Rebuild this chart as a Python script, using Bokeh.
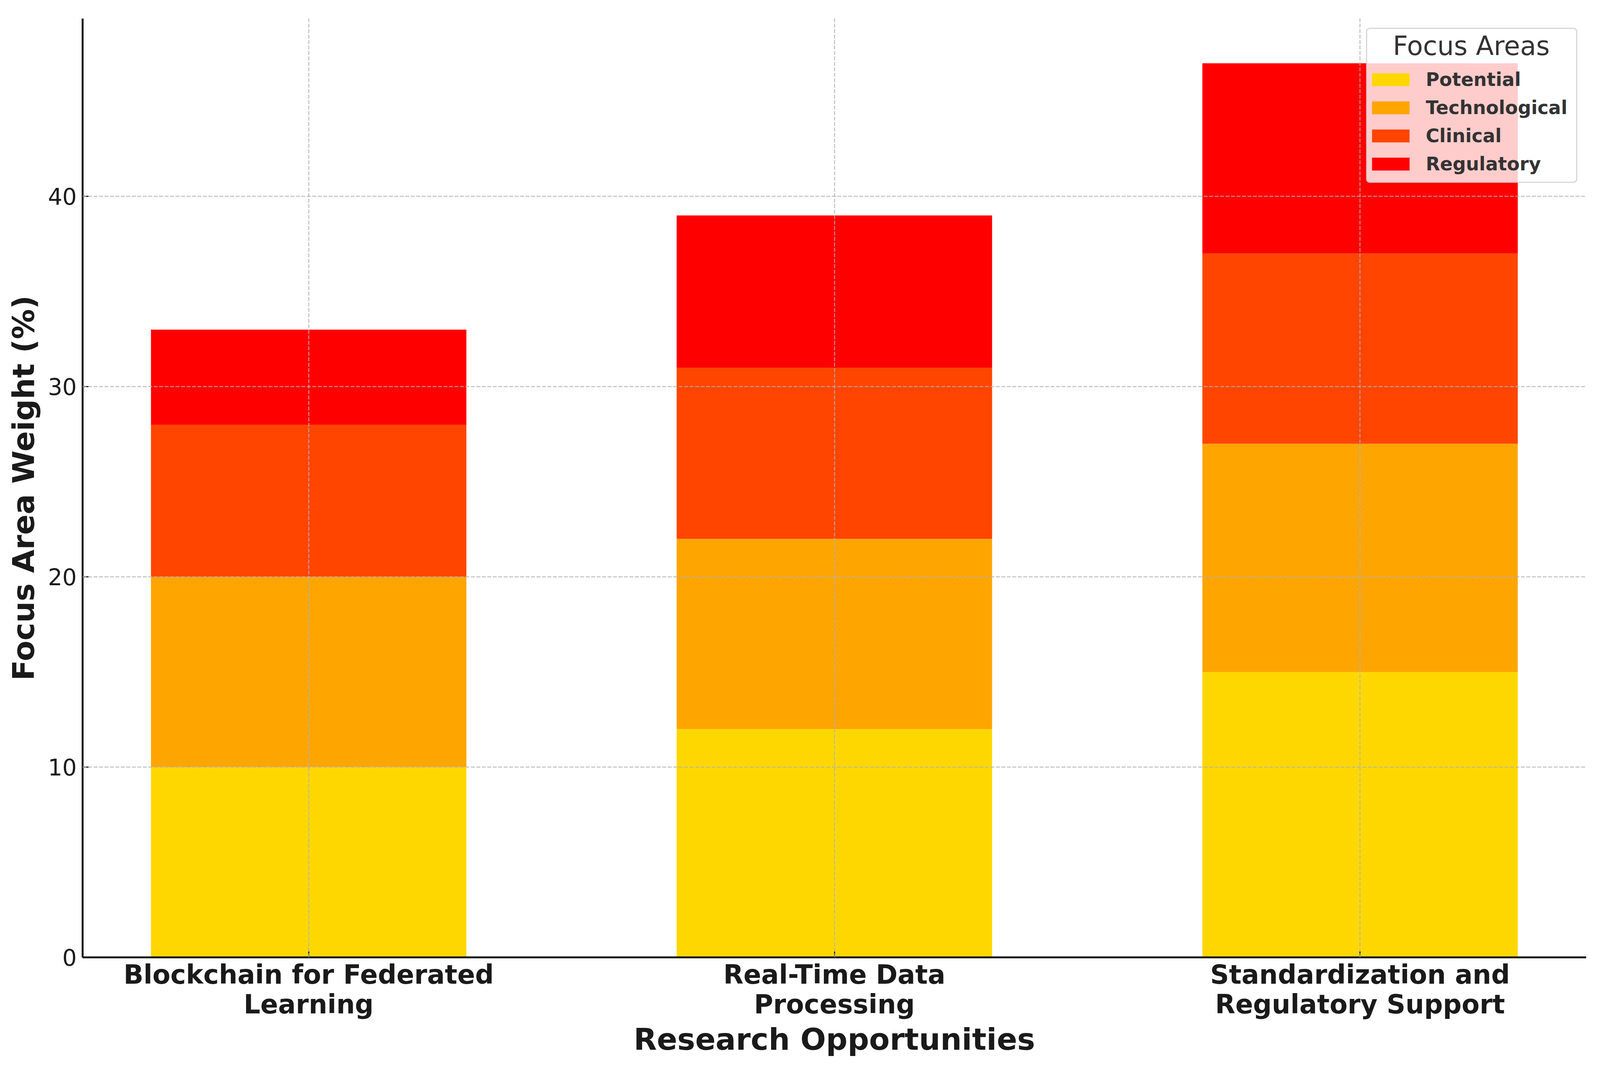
from bokeh.plotting import figure
from bokeh.models import (Range1d, FixedTicker, Legend, LegendItem, Label, BoxAnnotation,
                          ColumnDataSource)
from bokeh.embed import file_html
from bokeh.resources import INLINE

# ---- data ----
categories = ["Blockchain for Federated\nLearning",
              "Real-Time Data\nProcessing",
              "Standardization and\nRegulatory Support"]
focus_areas = ["Potential", "Technological", "Clinical", "Regulatory"]
potential = [10, 12, 15]
technological = [10, 10, 12]
clinical = [8, 9, 10]
regulatory = [5, 8, 10]
colors = ["#FFD700", "#FFA500", "#FF4500", "#FF0000"]
y_ticks = [0, 10, 20, 30, 40]
legend_title = "Focus Areas"

FONT = "DejaVu Sans"
x = list(range(len(categories)))
source = ColumnDataSource(dict(x=x, Potential=potential, Technological=technological,
                               Clinical=clinical, Regulatory=regulatory))

totals = [a + b + c + d for a, b, c, d in zip(potential, technological, clinical, regulatory)]

p = figure(width=4126, height=2751, output_backend="svg", toolbar_location=None,
           x_range=Range1d(-0.43, len(categories) - 1 + 0.43),
           y_range=Range1d(0, max(totals) * 1.05),
           min_border_left=211, min_border_right=66, min_border_top=47, min_border_bottom=301)
p.outline_line_color = None
p.background_fill_color = "white"
p.border_fill_color = "white"

renderers = p.vbar_stack(focus_areas, x="x", width=0.6, fill_color=colors,
                         line_color=None, source=source)

# axes
p.xaxis.ticker = FixedTicker(ticks=x)
p.xaxis.major_label_overrides = {i: c for i, c in enumerate(categories)}
p.yaxis.ticker = FixedTicker(ticks=y_ticks)
p.xaxis.axis_label = "Research Opportunities"
p.yaxis.axis_label = "Focus Area Weight (%)"

for ax in (p.xaxis[0], p.yaxis[0]):
    ax.axis_line_width = 5
    ax.axis_line_color = "#1a1a1a"
    ax.major_tick_in = 16
    ax.major_tick_out = 0
    ax.major_tick_line_width = 3
    ax.major_tick_line_color = "#1a1a1a"
    ax.minor_tick_line_color = None
    ax.axis_label_text_font = FONT
    ax.axis_label_text_font_style = "bold"
    ax.axis_label_text_font_size = "77px"
    ax.axis_label_text_color = "#1a1a1a"
    ax.major_label_text_font = FONT
    ax.major_label_text_color = "#1a1a1a"

p.xaxis.major_label_text_font_size = "67px"
p.xaxis.major_label_text_font_style = "bold"
p.xaxis.major_label_text_line_height = 0.98
p.xaxis.major_label_standoff = 5
p.xaxis.axis_label_standoff = 3
p.yaxis.major_label_text_font_size = "58px"
p.yaxis.major_label_standoff = 15
p.yaxis.axis_label_standoff = 15

# grid (drawn above the bars, as in the reference)
for g in (p.xgrid[0], p.ygrid[0]):
    g.grid_line_color = "#b0b0b0"
    g.grid_line_alpha = 0.7
    g.grid_line_width = 3
    g.grid_line_dash = "10 4"
    g.level = "guide"

# legend frame (semi-transparent white box with rounded border)
legend_box = BoxAnnotation(left=3287, right=3825, top=2378, bottom=1984,
                           left_units="screen", right_units="screen",
                           top_units="screen", bottom_units="screen",
                           fill_color="white", fill_alpha=0.8,
                           line_color="#cccccc", line_alpha=0.8, line_width=3,
                           border_radius=8)
p.add_layout(legend_box)

title_label = Label(x=3555, y=2333, x_units="screen", y_units="screen", text=legend_title,
                    text_align="center", text_baseline="alphabetic", text_font=FONT,
                    text_font_size="67px", text_color="#333333", level="overlay")
p.add_layout(title_label)

# legend entries
legend = Legend(items=[LegendItem(label=name, renderers=[r]) for name, r in zip(focus_areas, renderers)],
                location=(3289, 2003))
legend.padding = 5
legend.spacing = 16
legend.glyph_width = 120
legend.glyph_height = 41
legend.label_height = 56
legend.label_standoff = 30
legend.label_text_font = FONT
legend.label_text_font_style = "bold"
legend.label_text_font_size = "47.5px"
legend.label_text_color = "#333333"
legend.background_fill_alpha = 0
legend.border_line_color = None
p.add_layout(legend)

open("out.html", "w").write(file_html(p, INLINE))
